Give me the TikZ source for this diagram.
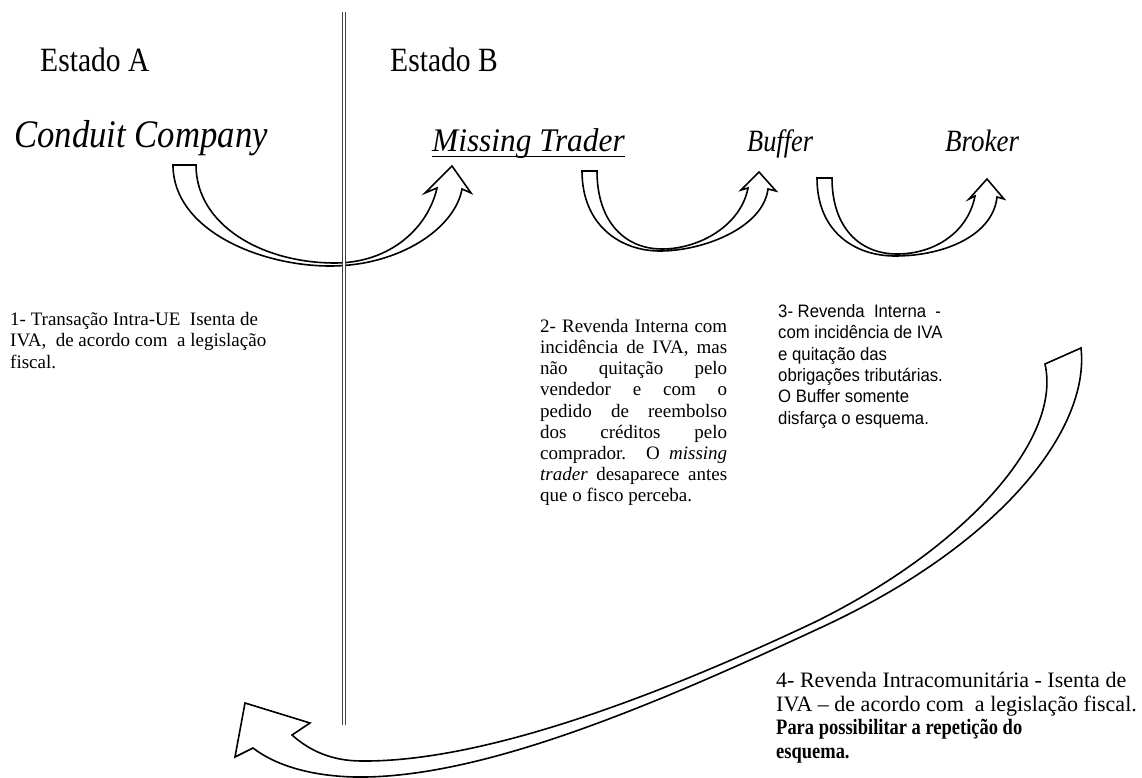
\documentclass[tikz,border=0pt]{standalone}
\usepackage{graphicx}
\usepackage{fontspec}
\setmainfont{Liberation Serif}
\newfontfamily\sansbody{Liberation Sans}[FakeStretch=0.93]
\newcommand\narrowtext[2]{\scalebox{#1}[1]{#2}}
\begin{document}
\begin{tikzpicture}[x=1pt,y=-1pt]
\tikzset{
  shapearrow/.style={draw=black, line width=1.6pt, fill=white, line join=miter},
  statelbl/.style={inner sep=0pt, anchor=base west, font=\fontsize{34}{40}\selectfont},
  actorlbl/.style={inner sep=0pt, anchor=base west, font=\itshape\fontsize{31}{36}\selectfont},
  serifbody/.style={inner sep=0pt, anchor=north west, font=\fontsize{19}{21.5}\selectfont},
  divider/.style={draw=black!75, double=white, double distance=2pt, line width=0.9pt}
}
\useasboundingbox (0,0) rectangle (1142,778);

% arrow 1: Conduit Company -> Missing Trader
\path[shapearrow] (173,165) .. controls (173,230) and (260,266) .. (330,266)
  .. controls (400,266) and (455,228) .. (462,189) -- (471,193) -- (452,166) -- (425,193) -- (437,188)
  .. controls (428,228) and (390,263) .. (335,263)
  .. controls (262,263) and (196,225) .. (196,165) -- cycle;
% arrow 2: Missing Trader -> Buffer
\path[shapearrow] (582,171) .. controls (582,225) and (620,251) .. (660,251)
  .. controls (703,251) and (763,228) .. (768,189) -- (776,191) -- (759,172) -- (741,190) -- (748,188)
  .. controls (741,225) and (700,249) .. (662,249)
  .. controls (625,249) and (597,222) .. (597,171) -- cycle;
% arrow 3: Buffer -> Broker
\path[shapearrow] (817,178) .. controls (817,232) and (855,256) .. (895,256)
  .. controls (945,256) and (993,235) .. (997,197) -- (1004,199) -- (987,179) -- (969,199) -- (975,196)
  .. controls (968,232) and (935,254) .. (897,254)
  .. controls (860,254) and (832,228) .. (832,178) -- cycle;
% arrow 4: Broker -> back to Estado A
\path[shapearrow] (1045,364) -- (1081,348)
  .. controls (1090,430) and (1000,545) .. (820,628)
  .. controls (650,707) and (480,779) .. (355,777)
  .. controls (310,776) and (275,765) .. (253,748)
  -- (235,757) -- (245,703) -- (310,723) -- (292,735)
  .. controls (310,751) and (332,761) .. (362,761)
  .. controls (480,762) and (650,700) .. (815,622)
  .. controls (965,548) and (1062,440) .. (1045,364) -- cycle;

% divider between states
\coordinate (divtop) at (344,12);
\coordinate (divbot) at (344,725);
\draw[divider] (divtop) -- (divbot);

% state labels
\node[statelbl] (estA) at (40,72) {\narrowtext{0.87}{Estado A}};
\node[statelbl] (estB) at (390,72) {\narrowtext{0.87}{Estado B}};

% actor labels
\node[actorlbl, font=\itshape\fontsize{39}{44}\selectfont] (conduit) at (14,148) {\narrowtext{0.89}{Conduit Company}};
\node[actorlbl, font=\itshape\fontsize{33}{38}\selectfont] (missing) at (432,152) {\narrowtext{0.95}{Missing Trader}};
\draw[line width=1pt] ([yshift=-5pt]missing.base west) -- ([yshift=-5pt]missing.base east);
\node[actorlbl] (buffer) at (747,152) {\narrowtext{0.85}{Buffer}};
\node[actorlbl] (broker) at (945,152) {\narrowtext{0.87}{Broker}};

% step texts
\node[serifbody, align=left] (t1) at (10,312)
  {1- Transação Intra-UE\ \ Isenta de\\IVA,\ \ de acordo com\ \ a legislação\\fiscal.};
\node[serifbody, text width=187pt, align=justify, font=\fontsize{19}{21.2}\selectfont] (t2) at (540,319)
  {2- Revenda Interna com\linebreak incidência de IVA, mas\linebreak não quitação pelo\linebreak
   vendedor e com o\linebreak pedido de reembolso\linebreak dos créditos pelo\linebreak
   comprador. O \textit{missing}\linebreak \textit{trader} desaparece antes\linebreak que o fisco perceba.};
\node[serifbody, align=left, font=\sansbody\fontsize{18}{21.4}\selectfont] (t3) at (778,304)
  {3- Revenda\ \ Interna\ \ -\\com incidência de IVA\\e quitação das\\obrigações\ tributárias.\\O Buffer\ somente\\disfarça o esquema.};
\node[serifbody, align=left, font=\fontsize{22}{23.7}\selectfont] (t4) at (776,672)
  {4- Revenda Intracomunitária - Isenta de\\IVA – de acordo com\ \ a legislação fiscal.\\\narrowtext{0.84}{\textbf{Para possibilitar a repetição do}}\\\narrowtext{0.84}{\textbf{esquema.}}};
\end{tikzpicture}
\end{document}
